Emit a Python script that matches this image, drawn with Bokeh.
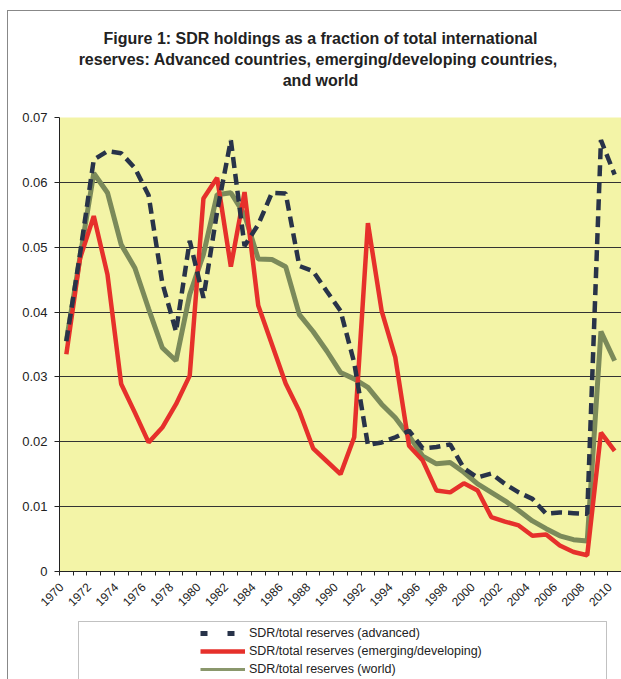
from math import pi
from bokeh.plotting import figure
from bokeh.layouts import column
from bokeh.models import (Range1d, FixedTicker, CustomJSTickFormatter, Legend,
                          LegendItem, Title, BoxAnnotation, ColumnDataSource)
from bokeh.embed import file_html
from bokeh.resources import INLINE

# ---------------- data ----------------
years = list(range(1970, 2011))

advanced = [0.0355, 0.0490, 0.0635, 0.0648, 0.0645, 0.0622, 0.0580, 0.0445,
            0.0370, 0.0510, 0.0422, 0.0555, 0.0665, 0.0502, 0.0535, 0.0584,
            0.0583, 0.0471, 0.0463, 0.0432, 0.0402, 0.0322, 0.0195, 0.0199,
            0.0207, 0.0217, 0.0190, 0.0192, 0.0196, 0.0159, 0.0145, 0.0151,
            0.0135, 0.0122, 0.0112, 0.0089, 0.0091, 0.0090, 0.0089, 0.0665,
            0.0612]

emerging = [0.0335, 0.0483, 0.0548, 0.0458, 0.0289, 0.0245, 0.0199, 0.0222,
            0.0258, 0.0302, 0.0575, 0.0607, 0.0470, 0.0585, 0.0410, 0.0350,
            0.0290, 0.0247, 0.0190, 0.0170, 0.0150, 0.0207, 0.0537, 0.0402,
            0.0330, 0.0194, 0.0171, 0.0125, 0.0122, 0.0136, 0.0125, 0.0084,
            0.0077, 0.0071, 0.0055, 0.0057, 0.0040, 0.0030, 0.0025, 0.0214,
            0.0186]

world = [0.0355, 0.0485, 0.0614, 0.0584, 0.0504, 0.0468, 0.0405, 0.0345,
         0.0325, 0.0427, 0.0489, 0.0581, 0.0584, 0.0550, 0.0482, 0.0481,
         0.0470, 0.0396, 0.0370, 0.0340, 0.0307, 0.0297, 0.0284, 0.0258,
         0.0237, 0.0209, 0.0178, 0.0166, 0.0168, 0.0153, 0.0135, 0.0122,
         0.0109, 0.0094, 0.0078, 0.0066, 0.0055, 0.0049, 0.0047, 0.0370,
         0.0325]

label_years = list(range(1970, 2011, 2))
year_labels = [str(y) for y in label_years]
y_ticks = [0, 0.01, 0.02, 0.03, 0.04, 0.05, 0.06, 0.07]

title_lines = ["Figure 1: SDR holdings as a fraction of total international",
               "reserves: Advanced countries, emerging/developing  countries,",
               "and world"]
series_names = ["SDR/total reserves (advanced)",
                "SDR/total reserves (emerging/developing)",
                "SDR/total reserves (world)"]

# ---------------- styles ----------------
FONT = "Liberation Sans"
YELLOW = "#f3f4a7"
NAVY = "#283349"
RED = "#e6302b"
GREEN = "#7b8a5a"
INK = "#222222"
NBSP = "\u00a0"

src = ColumnDataSource(dict(year=years, advanced=advanced,
                            emerging=emerging, world=world))

# ---------------- main chart ----------------
p = figure(width=613, height=606, output_backend="svg", toolbar_location=None,
           title=None,
           x_range=Range1d(1969.5, 2010.5), y_range=Range1d(0, 0.07),
           min_border_left=51, min_border_right=0, min_border_top=106,
           min_border_bottom=46)
p.background_fill_color = YELLOW
p.border_fill_color = "white"
p.outline_line_color = None

# titles (added innermost first)
p.add_layout(Title(text=" ", text_font_size="18px", text_font=FONT,
                   standoff=6), "above")
for line in reversed(title_lines):
    p.add_layout(Title(text=line + NBSP * 9, align="center",
                       standoff=1.5, text_font=FONT,
                       text_font_size="16px", text_font_style="bold",
                       text_color=INK), "above")

# y axis
p.yaxis.ticker = FixedTicker(ticks=y_ticks)
p.yaxis.formatter = CustomJSTickFormatter(
    code="return tick == 0 ? '0' : tick.toFixed(2);")
p.yaxis.minor_tick_line_color = None
p.yaxis.major_tick_out = 5
p.yaxis.major_tick_in = 0
p.yaxis.major_label_standoff = 7
p.yaxis.major_label_text_font = FONT
p.yaxis.major_label_text_font_size = "13px"
p.yaxis.major_label_text_color = INK
p.yaxis.axis_line_color = INK
p.yaxis.major_tick_line_color = INK

# x axis
p.xaxis.ticker = FixedTicker(ticks=label_years,
                             minor_ticks=[1969.5 + i for i in range(42)])
p.xaxis.major_label_overrides = {y: lab + NBSP * 2
                                 for y, lab in zip(label_years, year_labels)}
p.xaxis.major_tick_line_color = None
p.xaxis.minor_tick_out = 4
p.xaxis.minor_tick_in = 0
p.xaxis.minor_tick_line_color = INK
p.xaxis.axis_line_color = INK
p.xaxis.major_label_orientation = pi / 4
p.xaxis.major_label_standoff = 3
p.xaxis.major_label_text_font = FONT
p.xaxis.major_label_text_font_size = "12px"
p.xaxis.major_label_text_color = INK

p.xgrid.grid_line_color = None
p.ygrid.grid_line_color = "#333333"
p.ygrid.grid_line_width = 1

p.line("year", "world", source=src, line_color=GREEN, line_width=5)
p.line("year", "emerging", source=src, line_color=RED, line_width=4.5)
p.line("year", "advanced", source=src, line_color=NAVY,
       line_width=4.5, line_dash="11 6")

# ---------------- legend strip ----------------
p2 = figure(width=613, height=62, output_backend="svg", toolbar_location=None,
            title=None, x_axis_type=None, y_axis_type=None,
            x_range=Range1d(0, 1), y_range=Range1d(0, 1),
            min_border_left=0, min_border_right=0, min_border_top=0,
            min_border_bottom=0)
p2.outline_line_color = None
p2.background_fill_color = "white"
p2.border_fill_color = "white"

k_adv = p2.line("year", "advanced", source=src, line_color=NAVY,
                line_width=5, line_dash="7 20")
k_em = p2.line("year", "emerging", source=src, line_color=RED, line_width=4.5)
k_world = p2.line("year", "world", source=src, line_color="#8a976c",
                  line_width=3)

legend = Legend(items=[LegendItem(label=series_names[0], renderers=[k_adv]),
                       LegendItem(label=series_names[1], renderers=[k_em]),
                       LegendItem(label=series_names[2], renderers=[k_world])],
                location=(141, 1), orientation="vertical",
                padding=0, margin=0, spacing=0,
                glyph_width=45, glyph_height=18, label_height=18,
                label_standoff=4, label_text_font=FONT,
                label_text_font_size="12.5px", label_text_color=INK,
                border_line_alpha=0, background_fill_alpha=0)
p2.add_layout(legend, "center")
p2.add_layout(BoxAnnotation(left=70, right=598, top=4, bottom=120,
                            left_units="canvas", right_units="canvas",
                            top_units="canvas", bottom_units="canvas",
                            fill_alpha=0, line_color="#333333", line_width=1))

layout = column(p, p2, spacing=0,
                styles={"margin-left": "7px", "margin-top": "10px",
                        "border-left": "1px solid #888888",
                        "border-top": "1px solid #888888"})
open("out.html", "w").write(file_html(layout, INLINE))
